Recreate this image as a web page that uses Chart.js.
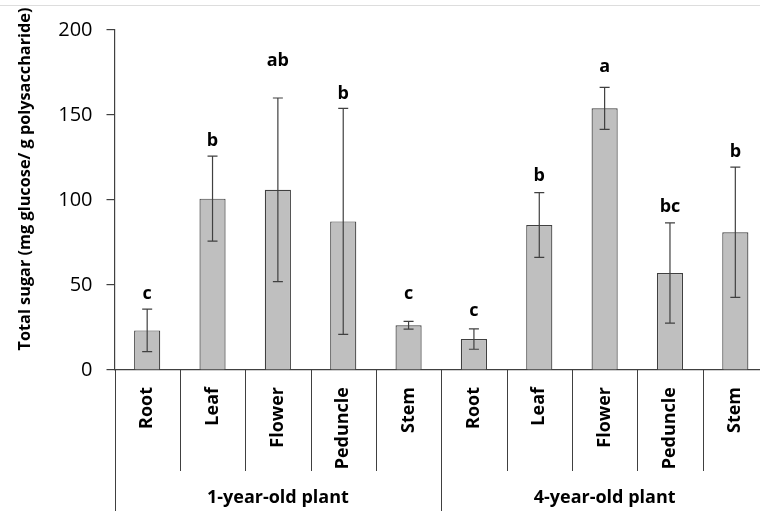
<!DOCTYPE html>
<html>
<head>
<meta charset="utf-8">
<script src="https://cdn.jsdelivr.net/npm/chart.js@4"></script>
<style>
  html, body { margin: 0; padding: 0; background: #fff; }
  #wrap { width: 760px; height: 511px; overflow: hidden; position: relative; }
</style>
</head>
<body>
<div id="wrap"><canvas id="chart" width="768" height="511"></canvas></div>
<script>
// sugar content per organ, two plant ages
const organs = ["Root", "Leaf", "Flower", "Peduncle", "Stem"];
const groups = ["1-year-old plant", "4-year-old plant"];
const labels = organs.concat(organs);
const means = [23.3, 100.8, 106, 87.4, 26.3, 18.2, 85.3, 153.9, 57.1, 81];
const sd = [12.5, 25, 54, 66.5, 2.3, 6, 19, 12.4, 29.5, 38.3];
const letters = ["c", "b", "ab", "b", "c", "c", "b", "a", "bc", "b"];
const letterAt = [44.9, 134.9, 182, 162.5, 44.9, 34.9, 114.3, 178.4, 96.1, 128.4];
const yTicks = [0, 50, 100, 150, 200];

const FONT = "'Open Sans', sans-serif";
const dark = "#404040";

const extras = {
  id: "extras",
  afterDatasetsDraw(chart) {
    const ctx = chart.ctx;
    const y = chart.scales.y;
    const meta = chart.getDatasetMeta(0);
    ctx.save();
    // error bars
    ctx.strokeStyle = dark;
    ctx.lineWidth = 1.2;
    meta.data.forEach((bar, i) => {
      const hi = y.getPixelForValue(means[i] + sd[i]);
      const lo = y.getPixelForValue(means[i] - sd[i]);
      ctx.beginPath();
      ctx.moveTo(bar.x, hi); ctx.lineTo(bar.x, lo);
      ctx.moveTo(bar.x - 5, hi); ctx.lineTo(bar.x + 5, hi);
      ctx.moveTo(bar.x - 5, lo); ctx.lineTo(bar.x + 5, lo);
      ctx.stroke();
    });
    // significance letters
    ctx.fillStyle = "#000";
    ctx.font = "bold 18px " + FONT;
    ctx.textAlign = "center";
    ctx.textBaseline = "middle";
    meta.data.forEach((bar, i) => {
      ctx.fillText(letters[i], bar.x, y.getPixelForValue(letterAt[i]));
    });
    ctx.restore();
  },
  afterDraw(chart) {
    const ctx = chart.ctx;
    const x = chart.scales.x;
    const area = chart.chartArea;
    const n = labels.length;
    const step = (x.getPixelForTick(1) - x.getPixelForTick(0));
    ctx.save();
    ctx.strokeStyle = dark;
    ctx.lineWidth = 1;
    for (let i = 0; i <= n; i++) {
      const px = Math.round(x.getPixelForTick(0) - step / 2 + i * step) + 0.5;
      const long = (i % organs.length === 0);
      ctx.beginPath();
      ctx.moveTo(px, area.bottom);
      ctx.lineTo(px, long ? chart.height : area.bottom + 101);
      ctx.stroke();
    }
    // group labels
    ctx.fillStyle = "#000";
    ctx.font = "bold 18px " + FONT;
    ctx.textAlign = "center";
    ctx.textBaseline = "middle";
    groups.forEach((g, j) => {
      const a = x.getPixelForTick(j * organs.length);
      const b = x.getPixelForTick(j * organs.length + organs.length - 1);
      ctx.fillText(g, (a + b) / 2, 498);
    });
    // y title
    ctx.translate(25, 179);
    ctx.rotate(-Math.PI / 2);
    ctx.font = "bold 16.3px " + FONT;
    ctx.fillText("Total sugar (mg glucose/ g polysaccharide)", 0, 0);
    ctx.restore();
    // light frame line on top
    ctx.save();
    ctx.strokeStyle = "#dddddd";
    ctx.beginPath();
    ctx.moveTo(0, 5.5); ctx.lineTo(chart.width, 5.5);
    ctx.stroke();
    ctx.restore();
  }
};

new Chart(document.getElementById("chart"), {
  type: "bar",
  data: {
    labels: labels,
    datasets: [{
      data: means,
      backgroundColor: "#BFBFBF",
      borderColor: dark,
      borderWidth: 1.2,
      barPercentage: 0.4,
      categoryPercentage: 1
    }]
  },
  options: {
    responsive: false,
    animation: false,
    layout: { padding: { top: 30, left: 0, right: 0, bottom: 0 } },
    plugins: { legend: { display: false }, tooltip: { enabled: false } },
    scales: {
      x: {
        grid: { display: false },
        border: { display: true, color: dark, width: 1.2 },
        ticks: {
          color: "#000",
          font: { family: FONT, size: 18, weight: "bold" },
          minRotation: 90, maxRotation: 90,
          padding: 9,
          autoSkip: false
        },
        afterFit(s) { s.height = 141; }
      },
      y: {
        min: 0, max: 200,
        afterBuildTicks(s) { s.ticks = yTicks.map(v => ({ value: v })); },
        grid: { drawOnChartArea: false, drawTicks: true, tickLength: 8, color: dark, lineWidth: 1.2 },
        border: { display: true, color: dark, width: 1.2 },
        ticks: {
          color: "#000",
          font: { family: FONT, size: 20 },
          padding: 14
        },
        afterFit(s) { s.width = 114.5; }
      }
    }
  },
  plugins: [extras]
});
</script>
</body>
</html>
